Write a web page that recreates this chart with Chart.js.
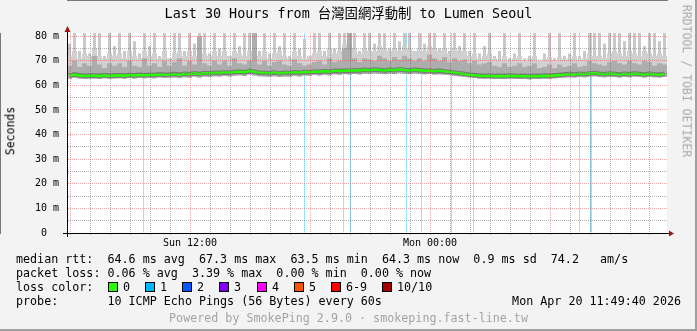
<!DOCTYPE html>
<html>
<head>
<meta charset="utf-8">
<script src="https://cdn.jsdelivr.net/npm/chart.js@4.4.1/dist/chart.umd.min.js"></script>
<style>
  html, body { margin: 0; padding: 0; background: #f3f3f3; }
  #wrap { position: relative; width: 697px; height: 331px; background: #f3f3f3; overflow: hidden; }
  #chart { position: absolute; left: 0; top: 0; }
  .txt { position: absolute; font-family: 'DejaVu Sans Mono', monospace; white-space: pre; color: #000; font-size: 11.7px; line-height: 14px; }
  .title { left: 0; width: 697px; text-align: center; top: 6px; font-size: 13.4px; line-height: 16px;
           font-family: 'DejaVu Sans Mono', 'Noto Sans CJK TC', monospace; }
  .rot { line-height: 1; font-size: 11.5px; }
  .box { position: absolute; width: 8px; height: 8px; border: 1px solid #000; }
  .edge-r { position: absolute; right: 0; top: 0; width: 2px; height: 331px; background: #9f9f9f; }
  .edge-b { position: absolute; left: 0; bottom: 0; width: 697px; height: 2px; background: #9f9f9f; }
</style>
</head>
<body>
<div id="wrap">
  <canvas id="chart" width="697" height="331"></canvas>
  <div class="txt title">Last 30 Hours from 台灣固網浮動制 to Lumen Seoul</div>
  <div class="txt rot" style="left:11px;top:131px;transform:translate(-50%,-50%) rotate(-90deg)">Seconds</div>
  <div class="txt rot" style="left:686px;top:81px;color:#a8a8a8;transform:translate(-50%,-50%) rotate(90deg)">RRDTOOL / TOBI OETIKER</div>
  <div class="txt" style="left:16px;top:252px">median rtt:  64.6 ms avg  67.3 ms max  63.5 ms min  64.3 ms now  0.9 ms sd  74.2   am/s</div>
  <div class="txt" style="left:16px;top:266px">packet loss: 0.06 % avg  3.39 % max  0.00 % min  0.00 % now</div>
  <div class="txt" style="left:16px;top:280px">loss color:</div>
  <div id="lossLegend"></div>
  <div class="txt" style="left:16px;top:294px">probe:       10 ICMP Echo Pings (56 Bytes) every 60s</div>
  <div class="txt" style="right:16px;top:294px">Mon Apr 20 11:49:40 2026</div>
  <div class="txt" style="left:0;width:697px;text-align:center;top:311px;color:#a4a4a4">Powered by SmokePing 2.9.0 · smokeping.fast-line.tw</div>
  <div class="edge-r"></div>
  <div class="edge-b"></div>
</div>
<script>
// time in hours since Sun 00:00
var tStart = 5.85, tEnd = 35.85;
var sampleStart = 5.975, sampleStep = 0.25;   // one smoke column per 15 min
var yMax = 81.3;

var medianRtt = [
  63.9, 64.5, 64.0, 63.8, 63.9, 64.0, 63.7, 64.1, 63.8, 64.0,
  64.1, 63.9, 64.2, 64.0, 64.3, 64.1, 64.3, 64.2, 64.5, 64.3,
  64.4, 64.6, 64.3, 64.7, 64.5, 64.9, 64.6, 65.0, 64.8, 65.1,
  65.0, 65.2, 65.1, 65.4, 65.5, 65.3, 65.9, 65.5, 65.1, 65.0,
  64.9, 65.2, 64.8, 65.1, 65.0, 65.3, 65.1, 65.4, 65.3, 65.6,
  65.5, 65.8, 65.6, 66.0, 65.9, 66.1, 66.0, 66.2, 66.1, 66.4,
  66.2, 66.5, 66.3, 66.1, 66.4, 66.2, 66.6, 66.3, 66.1, 66.4,
  66.2, 66.0, 66.1, 65.8, 66.0, 65.7, 65.5, 65.1, 64.9, 64.6,
  64.3, 64.1, 63.9, 63.8, 63.9, 63.7, 63.8, 63.7, 63.9, 63.8,
  63.7, 63.8, 63.6, 63.8, 63.7, 63.9, 63.8, 64.0, 64.2, 64.4,
  64.6, 64.4, 64.7, 64.5, 64.8, 65.0, 64.7, 64.5, 64.8, 64.6,
  64.4, 64.7, 64.5, 64.8, 64.6, 64.4, 64.7, 64.5, 64.4, 64.6
];
var pingMin = [
  62.7, 63.1, 62.8, 62.6, 62.7, 62.8, 62.6, 62.9, 62.7, 62.8,
  62.9, 62.7, 63.0, 62.8, 63.0, 62.9, 63.1, 62.9, 63.2, 63.0,
  63.1, 63.2, 63.0, 63.3, 63.1, 63.5, 63.2, 63.6, 63.4, 63.7,
  63.6, 63.8, 63.6, 63.9, 64.1, 63.8, 64.4, 64.0, 63.7, 63.6,
  63.5, 63.7, 63.4, 63.6, 63.5, 63.8, 63.6, 64.0, 63.9, 64.2,
  64.0, 64.3, 64.1, 64.5, 64.3, 64.6, 64.4, 64.7, 64.5, 64.8,
  64.7, 64.9, 64.8, 64.6, 64.8, 64.7, 65.0, 64.8, 64.6, 64.9,
  64.7, 64.5, 64.6, 64.4, 64.5, 64.3, 64.2, 63.9, 63.7, 63.5,
  63.3, 63.0, 62.8, 62.7, 62.8, 62.6, 62.7, 62.6, 62.8, 62.7,
  62.6, 62.7, 62.5, 62.7, 62.6, 62.8, 62.7, 62.9, 63.0, 63.2,
  63.3, 63.2, 63.4, 63.3, 63.5, 63.7, 63.4, 63.3, 63.5, 63.4,
  63.2, 63.5, 63.3, 63.6, 63.4, 63.2, 63.5, 63.3, 63.2, 63.4
];
var smokeMid = [
  68, 70, 67.5, 69, 68, 72, 68.5, 67, 69, 68,
  69, 67.5, 70, 68, 67.5, 71, 68, 69, 67.5, 70,
  68, 69.5, 71, 68, 70, 68.5, 80, 69, 68, 70,
  68.5, 70, 68, 71, 69, 68.5, 70, 85, 68.5, 70,
  68, 69.5, 70, 68.5, 68, 70.5, 69, 68, 68.5, 69.5,
  70, 68.5, 71, 69.5, 70, 75, 85, 71, 69.5, 71,
  70.5, 70, 72, 71, 70, 71.5, 70.5, 72, 71, 70,
  71, 70, 72.5, 71, 70, 71.5, 69.5, 71, 70, 70.5,
  69, 70, 68.5, 69, 69.5, 68, 67.5, 69, 67.5, 68,
  69, 67.5, 68, 69, 67, 67.5, 68.5, 67, 68.5, 67.5,
  68, 69, 67.5, 68, 70, 69, 68.5, 68, 69.5, 70,
  69, 68.5, 70, 69, 68.5, 70, 69.5, 68, 69, 68.5
];
var smokeUpper = [
  72, 74, 71, 73, 72, 75, 72, 71, 73, 72,
  73, 71, 74, 72, 71, 74, 72, 73, 71, 74,
  71, 73, 74, 72, 74, 72, 75, 73, 72, 74,
  72, 74, 72, 74, 73, 72, 74, 76, 72, 74,
  71, 73, 74, 72, 71, 74, 72, 71, 72, 73,
  74, 72, 75, 73, 74, 77, 76, 75, 73, 75,
  74, 74, 76, 75, 74, 75, 74, 76, 75, 74,
  75, 74, 76, 75, 74, 75, 73, 75, 74, 74,
  72, 73, 71, 72, 73, 71, 70, 72, 70, 71,
  72, 70, 71, 72, 70, 70.5, 71.5, 70, 71.5, 70.5,
  71, 72, 70.5, 71, 73, 72, 72, 71, 73, 74,
  73, 72, 74, 73, 72, 74, 73, 72, 73, 72
];
var smokeMax = [
  77, 85, 74, 85, 73, 85, 85, 72, 85, 76,
  85, 74, 85, 78, 73, 85, 76, 85, 72, 85,
  71, 85, 85, 74, 85, 77, 85, 85, 73, 85,
  75, 85, 72, 85, 76, 85, 85, 85, 74, 85,
  73, 85, 76, 85, 72, 85, 75, 79, 72, 85,
  85, 74, 85, 75, 85, 85, 85, 85, 74, 85,
  85, 77, 85, 85, 75, 85, 78, 85, 85, 74,
  85, 77, 85, 85, 75, 85, 74, 85, 76, 85,
  74, 85, 73, 76, 85, 72, 74, 85, 71, 73,
  85, 71, 72, 85, 70, 73, 85, 71, 85, 72,
  73, 85, 72, 74, 85, 85, 85, 77, 85, 85,
  85, 78, 85, 85, 85, 76, 85, 85, 78, 85
];
var lossTimes = [9.675, 17.725, 19.675, 20.025, 22.825, 23.575, 25.075, 26.175, 31.475, 32.025, 32.075];
var lossLevel = [1, 1, 1, 1, 1, 1, 1, 1, 1, 1, 1];
var lossColors = ['#26ff00', '#00b8ff', '#0059ff', '#7e00ff', '#ff00ff', '#ff5500', '#ff0000', '#a10000'];
var lossLabels = ['0', '1', '2', '3', '4', '5', '6-9', '10/10'];
var xTickHours = [12, 24];
var xTickLabels = ['Sun 12:00', 'Mon 00:00'];

var times = medianRtt.map(function (_, i) { return sampleStart + i * sampleStep; });

// loss colour legend
var lossBoxX = [108, 145, 182, 219, 257, 294, 331, 382];
var legendHtml = '';
lossLabels.forEach(function (lab, i) {
  legendHtml += '<div class="box" style="left:' + lossBoxX[i] + 'px;top:282px;background:' + lossColors[i] + '"></div>' +
                '<div class="txt" style="left:' + (lossBoxX[i] + 15) + 'px;top:280px">' + lab + '</div>';
});
document.getElementById('lossLegend').innerHTML = legendHtml;

var majorGrid = 'rgba(220,60,60,0.45)';
var minorGrid = 'rgba(90,90,90,0.45)';

function smokeBars(label, top, color, width, order) {
  return {
    label: label,
    data: times.map(function (t, i) { return {x: t, y: [pingMin[i], top[i]]}; }),
    backgroundColor: color, barThickness: width, grouped: false,
    inflateAmount: 0, borderWidth: 0, order: order, clip: 0
  };
}

var framePlugin = {
  id: 'frame',
  beforeDraw: function (chart) {
    var c = chart.ctx, a = chart.chartArea;
    c.save();
    c.fillStyle = '#f3f3f3';
    c.fillRect(0, 0, chart.width, chart.height);
    c.fillStyle = '#ffffff';
    c.fillRect(a.left, a.top, a.right - a.left, a.bottom - a.top);
    c.restore();
  },
  afterDraw: function (chart) {
    var c = chart.ctx, a = chart.chartArea;
    c.save();
    c.strokeStyle = '#000';
    c.lineWidth = 1;
    c.beginPath();
    c.moveTo(a.left - 4, a.bottom + 0.5);
    c.lineTo(a.right + 3, a.bottom + 0.5);
    c.moveTo(a.left + 0.5, a.bottom + 4);
    c.lineTo(a.left + 0.5, a.top - 2);
    c.stroke();
    c.fillStyle = '#a01414';
    c.beginPath();
    c.moveTo(a.left + 0.5, a.top - 7);
    c.lineTo(a.left - 2.5, a.top - 1);
    c.lineTo(a.left + 3.5, a.top - 1);
    c.closePath();
    c.fill();
    c.beginPath();
    c.moveTo(a.right + 7, a.bottom + 0.5);
    c.lineTo(a.right + 2, a.bottom - 2.5);
    c.lineTo(a.right + 2, a.bottom + 3.5);
    c.closePath();
    c.fill();
    c.restore();
  }
};

Chart.defaults.font.family = "'DejaVu Sans Mono', monospace";
Chart.defaults.font.size = 10;
Chart.defaults.color = '#000';

var ctx = document.getElementById('chart').getContext('2d');
var chart = new Chart(ctx, {
  type: 'bar',
  data: {
    datasets: [
      {
        type: 'line', label: 'median rtt',
        data: times.map(function (t, i) { return {x: t, y: medianRtt[i]}; }),
        borderColor: lossColors[0], borderWidth: 2.5, pointRadius: 0, tension: 0, order: 0, clip: 0
      },
      {
        type: 'line', label: 'median shade',
        data: times.map(function (t, i) { return {x: t, y: medianRtt[i]}; }),
        borderColor: 'rgba(40,40,40,0.4)', borderWidth: 4.5, pointRadius: 0, tension: 0, order: 1, clip: 0
      },
      smokeBars('smoke mid', smokeMid, '#adadad', 5, 2),
      smokeBars('smoke upper', smokeUpper, '#d0d0d0', 5, 3),
      smokeBars('smoke max', smokeMax, '#c9c9c9', 3, 4),
      {
        label: 'loss',
        data: lossTimes.map(function (t) { return {x: t, y: [0, yMax]}; }),
        backgroundColor: lossLevel.map(function (l) { return lossColors[l] + '66'; }),
        barThickness: 1, grouped: false, inflateAmount: 0, borderWidth: 0, order: 5, clip: 0
      }
    ]
  },
  options: {
    responsive: false,
    animation: false,
    devicePixelRatio: 1,
    events: [],
    layout: { padding: { top: 33, right: 30, bottom: 0, left: 0 } },
    plugins: { legend: { display: false }, tooltip: { enabled: false }, title: { display: false } },
    scales: {
      x: {
        type: 'linear', min: tStart, max: tEnd, offset: false,
        afterBuildTicks: function (s) {
          var t = [];
          for (var h = Math.ceil(tStart); h <= tEnd; h++) t.push({value: h});
          s.ticks = t;
        },
        ticks: {
          autoSkip: false, maxRotation: 0, padding: 2,
          callback: function (v) { var k = xTickHours.indexOf(v); return k < 0 ? '' : xTickLabels[k]; }
        },
        grid: {
          offset: false, z: 1, tickLength: 2,
          color: function (c) { return c.tick && c.tick.value % 6 === 0 ? majorGrid : minorGrid; },
          tickColor: function (c) { return c.tick && c.tick.value % 6 === 0 ? majorGrid : minorGrid; }
        },
        border: { color: '#000', dash: [1, 1] },
        afterFit: function (s) { s.height = 98; }
      },
      y: {
        min: 0, max: yMax,
        ticks: {
          stepSize: 5, includeBounds: false, autoSkip: false, padding: 8,
          callback: function (v) { return v % 10 ? '' : (v ? v + ' m' : '0  '); }
        },
        grid: {
          z: 1, drawTicks: false,
          color: function (c) { return c.tick && c.tick.value % 10 === 0 ? majorGrid : minorGrid; }
        },
        border: { color: '#000', dash: [1, 1] },
        afterFit: function (s) { s.width = 67; }
      }
    }
  },
  plugins: [framePlugin]
});
</script>
</body>
</html>
